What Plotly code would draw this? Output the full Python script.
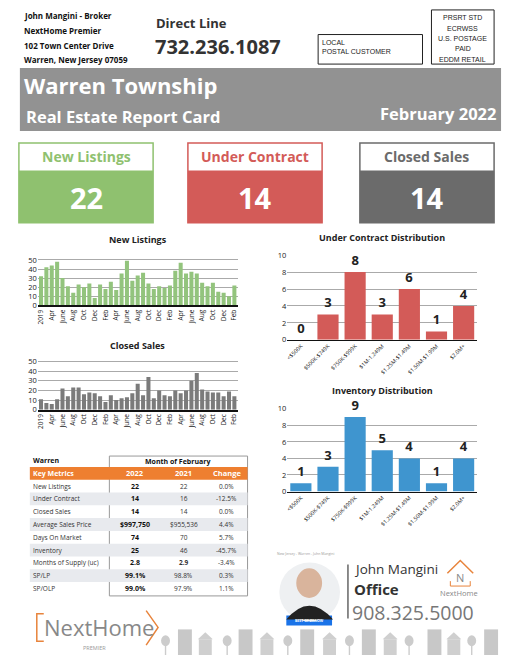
import plotly.graph_objects as go

W, H = 510, 660
months = ["2019","Mar","Apr","May","June","July","Aug","Sep","Oct","Nov","Dec","Jan",
          "Feb","Mar","Apr","May","June","July","Aug","Sep","Oct","Nov","Dec","Jan",
          "Feb","Mar","Apr","May","June","July","Aug","Sep","Oct","Nov","Dec","Jan","Feb"]
new_listings = [32,42,44,48,30,21,14,23,20,24,8,23,18,26,17,35,49,27,33,36,24,18,21,19,22,38,47,35,37,35,25,21,25,15,14,10,22]
closed_sales = [11,7,6,11,22,14,23,23,16,18,17,14,8,15,10,12,13,17,27,15,34,12,20,15,14,20,17,20,30,38,21,19,18,18,14,19,14]
price_bins = ["<$500K","$500K-$749K","$750K-$999K","$1M-1.249M","$1.25M-$1.49M","$1.50M-$1.99M","$2.0M+"]
under_contract = [0,3,8,3,6,1,4]
inventory = [1,3,9,5,4,1,4]
kpi_names = ["New Listings","Under Contract","Closed Sales"]
kpi_values = [22,14,14]
metrics = ["New Listings","Under Contract","Closed Sales","Average Sales Price","Days On Market",
           "Inventory","Months of Supply (uc)","SP/LP","SP/OLP"]
v2022 = ["22","14","14","$997,750","74","25","2.8","99.1%","99.0%"]
v2021 = ["22","16","14","$955,536","70","46","2.9","98.8%","97.9%"]
change = ["0.0%","-12.5%","0.0%","4.4%","5.7%","-45.7%","-3.4%","0.3%","1.1%"]

def px(x): return x / W
def py(y): return 1 - y / H

fig = go.Figure()
shapes, anns = [], []
F = "Open Sans"

def rect(x0, y0, x1, y1, fill=None, line=None, lw=1):
    shapes.append(dict(type="rect", xref="paper", yref="paper", x0=px(x0), x1=px(x1), y0=py(y1), y1=py(y0),
                       fillcolor=fill or "rgba(0,0,0,0)", line=dict(color=line or "rgba(0,0,0,0)", width=lw if line else 0), layer="below"))

def text(x, y, s, size=10, color="#222", bold=False, xa="left", font=F, ya="middle"):
    anns.append(dict(xref="paper", yref="paper", x=px(x), y=py(y), text=f"<b>{s}</b>" if bold else s, showarrow=False,
                     xanchor=xa, yanchor=ya, borderpad=0, font=dict(size=size, color=color, family=font)))

# header
for i, s in enumerate(["John Mangini - Broker","NextHome Premier","102 Town Center Drive","Warren, New Jersey 07059"]):
    text(21, 11 + i*15, s, 8, "#111", True)
text(154, 18, "Direct Line", 13, "#333", True)
text(153, 42, "732.236.1087", 20, "#333", True)
rect(318, 30, 423, 60, line="#222")
text(321, 38, "LOCAL", 7, "#222", font="Liberation Sans")
text(321, 47, "POSTAL CUSTOMER", 7, "#222", font="Liberation Sans")
rect(432, 5, 495, 60, line="#222")
for i, s in enumerate(["PRSRT STD","ECRWSS","U.S. POSTAGE","PAID","EDDM RETAIL"]):
    text(463.5, 13 + i*10.5, s, 7, "#222", xa="center", font="Liberation Sans")
rect(18, 64, 502, 128, fill="#929292")
text(21, 81, "Warren Township", 22, "white", True)
text(23, 113, "Real Estate Report Card", 16.5, "white", True)
text(498, 110, "February 2022", 16.5, "white", True, xa="right")

# KPI boxes
kcols = ["#8fc16f", "#d35b58", "#6b6b6b"]
kx = [17, 187, 360]
for name, val, c, x0 in zip(kpi_names, kpi_values, kcols, kx):
    rect(x0, 140, x0+135, 221, fill="white", line=c, lw=1.5)
    rect(x0, 168, x0+135, 221, fill=c)
    text(x0+67.5, 154, name, 14, c, True, xa="center")
    text(x0+67.5, 195, str(val), 29, "white", True, xa="center")

# charts
tickv = list(range(0, 37, 2))
tickt = [months[i] for i in tickv]
def small_bar(vals, color, ax, title, x0, x1, y0, y1, ty):
    fig.add_trace(go.Bar(x=list(range(37)), y=vals, marker=dict(color=color, line=dict(width=0)), width=0.75,
                         xaxis=f"x{ax}", yaxis=f"y{ax}", showlegend=False))
    lay = dict()
    lay[f"xaxis{ax}"] = dict(domain=[px(x0), px(x1)], anchor=f"y{ax}", tickvals=tickv, ticktext=tickt, tickangle=-90,
                             tickfont=dict(size=6.5, family=F, color="#222"), showgrid=False, range=[-0.6, 36.6],
                             showline=True, linecolor="#111", linewidth=1.5, ticks="")
    lay[f"yaxis{ax}"] = dict(domain=[py(y1), py(y0)], anchor=f"x{ax}", range=[0, 52], tickvals=[0,10,20,30,40,50],
                             tickfont=dict(size=7.5, family=F, color="#222"), gridcolor="#aaa", gridwidth=0.7, zeroline=False)
    fig.update_layout(**lay)
    text((x0+x1)/2, ty, title, 9, "#222", True, xa="center")

small_bar(new_listings, "#93c47d", "", "New Listings", 36, 237, 257, 305, 238)
small_bar(closed_sales, "#7b7b7b", 2, "Closed Sales", 36, 237, 360, 411, 346)

def dist_bar(vals, color, ax, title, x0, x1, y0, y1, ty):
    fig.add_trace(go.Bar(x=price_bins, y=vals, marker=dict(color=color, line=dict(width=0)), width=0.78,
                         text=[f"<b>{v}</b>" for v in vals], textposition="outside", cliponaxis=False,
                         textfont=dict(size=13, family=F, color="#222"),
                         xaxis=f"x{ax}", yaxis=f"y{ax}", showlegend=False))
    lay = dict()
    lay[f"xaxis{ax}"] = dict(domain=[px(x0), px(x1)], anchor=f"y{ax}", tickangle=-45,
                             tickfont=dict(size=5.5, family=F, color="#222"), showline=True, linecolor="#111", linewidth=1)
    lay[f"yaxis{ax}"] = dict(domain=[py(y1), py(y0)], anchor=f"x{ax}", range=[0, 10], dtick=2,
                             tickfont=dict(size=7.5, family=F, color="#222"), gridcolor="#aaa", gridwidth=0.7, zeroline=False)
    fig.update_layout(**lay)
    text((x0+x1)/2, ty, title, 9, "#222", True, xa="center")

dist_bar(under_contract, "#d35b58", 3, "Under Contract Distribution", 287, 478, 254, 340, 236)
dist_bar(inventory, "#3f95cf", 4, "Inventory Distribution", 287, 478, 410, 494, 391)

# table
rect(108, 458, 247, 600, line="#999")
rect(28, 469, 247, 482, fill="#ee7f30")
text(30, 463, "Warren", 7, "#111", True)
text(177, 464, "Month of February", 7, "#111", True, xa="center")
cx = [134, 183, 226]
text(30, 475.5, "Key Metrics", 7, "white", True)
for c, s in zip(cx, ["2022","2021","Change"]):
    text(c, 475.5, s, 7.5, "white", True, xa="center")
for i, m in enumerate(metrics):
    yc = 488.5 + i*13
    if i % 2 == 1:
        rect(28, yc-6.5, 247, yc+6.5, fill="#e8eaee")
    text(30, yc, m, 6.5, "#333")
    text(cx[0], yc, v2022[i], 7, "#111", True, xa="center")
    text(cx[1], yc, v2021[i], 6.5, "#333", bold=(i == 6), xa="center")
    text(cx[2], yc, change[i], 6.5, "#333", xa="center")

# agent block
text(276, 557, "New Jersey - Warren - John Mangini", 3.5, "#999")
shapes.append(dict(type="circle", xref="paper", yref="paper", x0=px(279), x1=px(340), y0=py(626), y1=py(566),
                   fillcolor="#eef0f2", line=dict(width=0)))
shapes.append(dict(type="circle", xref="paper", yref="paper", x0=px(296), x1=px(322), y0=py(602), y1=py(572),
                   fillcolor="#d9b49c", line=dict(width=0)))
shapes.append(dict(type="path", xref="paper", yref="paper",
                   path=f"M {px(286)} {py(624)} Q {px(309)} {py(596)} {px(333)} {py(624)} Z", fillcolor="#222", line=dict(width=0)))
rect(286, 620, 332, 630, fill="#1a73e8")
text(309, 625, "BEST OF ZILLOW", 3.5, "white", True, xa="center")
shapes.append(dict(type="line", xref="paper", yref="paper", x0=px(348), x1=px(348), y0=py(568), y1=py(623), line=dict(color="#666", width=1.5)))
text(353, 573, "John Mangini", 13.5, "#333")
text(353, 593, "Office", 15, "#333", True)
text(351, 617, "908.325.5000", 19.5, "#777")
shapes.append(dict(type="path", xref="paper", yref="paper",
                   path=f"M {px(448)} {py(577)} L {px(461)} {py(564)} L {px(474)} {py(577)}", line=dict(color="#e8843c", width=1.5)))
text(461, 581, "N", 11, "#888", xa="center")
shapes.append(dict(type="path", xref="paper", yref="paper",
                   path=f"M {px(451)} {py(585)} L {px(451)} {py(590)} L {px(471)} {py(590)} L {px(471)} {py(585)}", line=dict(color="#e8843c", width=1)))
text(460, 597, "NextHome", 7.5, "#888", xa="center")

# bottom logo
shapes.append(dict(type="path", xref="paper", yref="paper",
                   path=f"M {px(42)} {py(618)} L {px(35)} {py(618)} L {px(35)} {py(646)} L {px(42)} {py(646)}", line=dict(color="#e8843c", width=1.5)))
shapes.append(dict(type="path", xref="paper", yref="paper",
                   path=f"M {px(145)} {py(615)} L {px(157)} {py(632)} L {px(145)} {py(650)}", line=dict(color="#e8843c", width=1.5)))
text(41, 632, "NextHome", 22, "#888")
text(93, 653, "PREMIER", 5.5, "#999", xa="center")
# decorative houses
hx = [160, 177, 198, 222, 238, 260, 283, 300, 323, 345, 362, 384, 405, 428, 448, 468, 485]
for i, x in enumerate(hx):
    if i % 3 == 1:
        rect(x, 634, x+14, 660, fill="#c8c8c8")
    elif i % 3 == 2:
        rect(x, 644, x+13, 660, fill="#cfcfcf")
        shapes.append(dict(type="path", xref="paper", yref="paper",
                           path=f"M {px(x-1)} {py(644)} L {px(x+6.5)} {py(637)} L {px(x+14)} {py(644)} Z", fillcolor="#cfcfcf", line=dict(width=0)))
    else:
        shapes.append(dict(type="circle", xref="paper", yref="paper", x0=px(x), x1=px(x+9), y0=py(651), y1=py(640),
                           fillcolor="#cccccc", line=dict(width=0)))
        rect(x+3.8, 650, x+5.2, 660, fill="#cccccc")

fig.update_layout(width=W, height=H, margin=dict(l=0, r=0, t=0, b=0), paper_bgcolor="white", plot_bgcolor="white",
                  shapes=shapes, annotations=anns, bargap=0.2, font=dict(family=F))
fig.write_html("out.html", config={"displayModeBar": False})
with open("out.html") as f:
    html = f.read()
html = html.replace("<head>", "<head><style>html,body{margin:0;padding:0;overflow:hidden;}</style>", 1)
with open("out.html", "w") as f:
    f.write(html)
